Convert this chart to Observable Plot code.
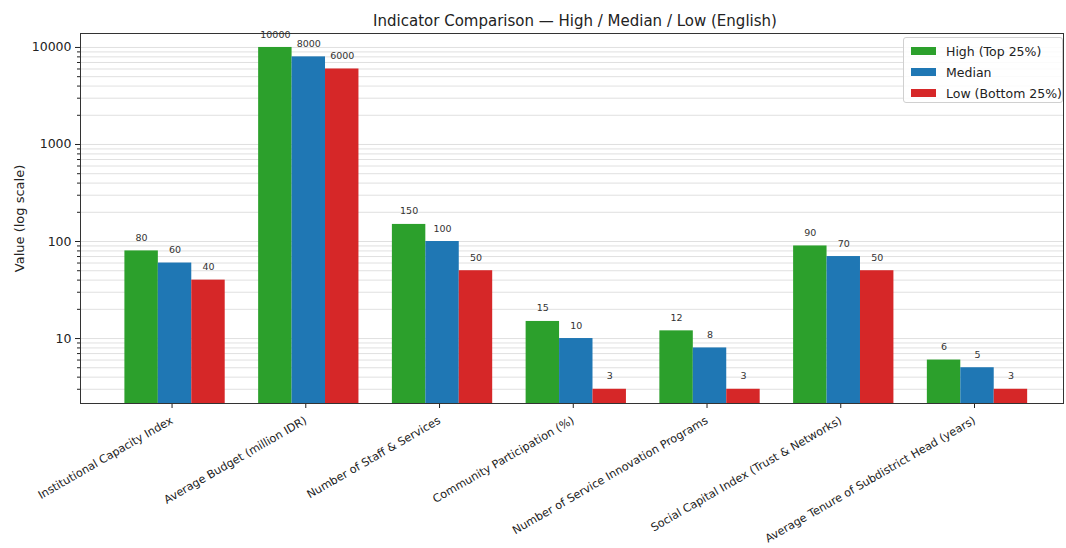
<!DOCTYPE html>
<html>
<head>
<meta charset="utf-8">
<script src="https://cdn.jsdelivr.net/npm/d3@7"></script>
<script src="https://cdn.jsdelivr.net/npm/@observablehq/plot@0.6"></script>
<style>
  html, body { margin: 0; padding: 0; background: #fff; }
  body { width: 1066px; height: 548px; position: relative; overflow: hidden; font-family: "DejaVu Sans", sans-serif; }
  #title { height: 29px; width: 1066px; position: relative; }
  #title span { position: absolute; left: 575px; top: 12px; transform: translateX(-50%); white-space: nowrap; font-size: 15px; color: #222; }
  #legend { position: absolute; left: 903px; top: 37px; width: 160px; height: 66px; border: 1px solid #d0d0d0; border-radius: 3px; background: rgba(255,255,255,0.85); box-sizing: border-box; }
  .row { position: absolute; left: 7px; height: 14px; display: flex; align-items: center; font-size: 12.5px; color: #222; white-space: nowrap; }
  .sw { width: 25px; height: 8px; margin-right: 10px; }
</style>
</head>
<body>
<div id="title"><span></span></div>
<div id="chart"></div>
<div id="legend"></div>
<script>
const titleText = "Indicator Comparison — High / Median / Low (English)";
const categories = [
  "Institutional Capacity Index",
  "Average Budget (million IDR)",
  "Number of Staff & Services",
  "Community Participation (%)",
  "Number of Service Innovation Programs",
  "Social Capital Index (Trust & Networks)",
  "Average Tenure of Subdistrict Head (years)"
];
const seriesNames = ["High (Top 25%)", "Median", "Low (Bottom 25%)"];
const highValues = [80, 10000, 150, 15, 12, 90, 6];
const medianValues = [60, 8000, 100, 10, 8, 70, 5];
const lowValues = [40, 6000, 50, 3, 3, 50, 3];
const seriesColors = ["#2ca02c", "#1f77b4", "#d62728"];
const yMajorTicks = [10, 100, 1000, 10000];
const yLabel = "Value (log scale)";

const yDomain = [2.14, 13930];
const seriesValues = [highValues, medianValues, lowValues];
const rows = categories.flatMap((c, i) => seriesNames.map((s, k) => ({i, k, cat: c, series: s, value: seriesValues[k][i]})));
const yMinor = [];
for (let dec = 1; dec <= 10000; dec *= 10) for (let m = 2; m <= 9; m++) { const v = m * dec; if (v >= yDomain[0] && v <= yDomain[1]) yMinor.push(v); }
const barW = 0.25;

document.querySelector("#title span").textContent = titleText;

const chart = Plot.plot({
  width: 1066,
  height: 515,
  marginLeft: 80,
  marginRight: 3,
  marginTop: 4,
  marginBottom: 141,
  style: {fontFamily: "DejaVu Sans, sans-serif", color: "#222", background: "#fff"},
  x: {type: "linear", domain: [-0.707, 6.643]},
  y: {type: "log", domain: yDomain},
  color: {domain: seriesNames, range: seriesColors},
  marks: [
    Plot.gridY(yMinor, {stroke: "#d8d8d8", strokeOpacity: 1, strokeWidth: 0.8}),
    Plot.gridY(yMajorTicks, {stroke: "#d8d8d8", strokeOpacity: 1, strokeWidth: 0.8}),
    Plot.rect(rows, {
      x1: d => d.i + (d.k - 1) * barW - barW / 2,
      x2: d => d.i + (d.k - 1) * barW + barW / 2,
      y1: yDomain[0],
      y2: "value",
      fill: "series"
    }),
    Plot.text(rows, {
      x: d => d.i + (d.k - 1) * barW,
      y: "value",
      text: d => String(d.value),
      dy: -13,
      fontSize: 9.5,
      fill: "#333"
    }),
    Plot.axisY({ticks: yMajorTicks, tickFormat: d => String(d), fontSize: 12.5, tickSize: 5, tickPadding: 4, label: null}),
    Plot.axisY({ticks: yMinor, tickFormat: () => "", tickSize: 3, label: null}),
    Plot.axisY({ticks: [], label: yLabel, labelAnchor: "center", labelArrow: "none", labelOffset: 66, fontSize: 13}),
    Plot.axisX({ticks: d3.range(categories.length), tickFormat: i => categories[i], tickRotate: -30, fontSize: 11.2, tickSize: 5, tickPadding: 11, dx: -3, label: null}),
    Plot.frame({stroke: "#333", strokeWidth: 1})
  ]
});
document.getElementById("chart").appendChild(chart);

const legend = document.getElementById("legend");
seriesNames.forEach((s, k) => {
  const row = document.createElement("div");
  row.className = "row";
  row.style.top = (6 + k * 21) + "px";
  const sw = document.createElement("div");
  sw.className = "sw";
  sw.style.background = seriesColors[k];
  const t = document.createElement("span");
  t.textContent = s;
  row.appendChild(sw);
  row.appendChild(t);
  legend.appendChild(row);
});
</script>
</body>
</html>
